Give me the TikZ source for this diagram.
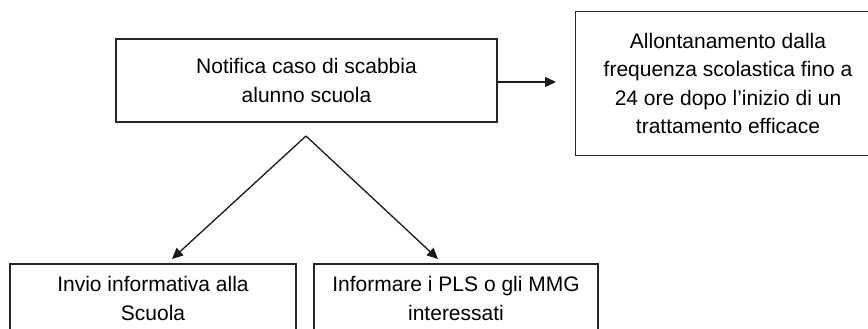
\documentclass[tikz,border=0pt]{standalone}
\usepackage{fontspec}
\setmainfont{Liberation Sans}
\usetikzlibrary{arrows.meta}
\begin{document}
\begin{tikzpicture}[x=1pt,y=-1pt,
  boxline/.style={draw=black!85, line width=1.1pt},
  box/.style={boxline, align=center, inner sep=0pt,
    font=\fontsize{21}{28.5}\selectfont},
  flow/.style={draw=black!90, line width=1.3pt,
    -{Triangle[length=11pt,width=10pt]}}]
  \useasboundingbox (0,0) rectangle (868,329);

  % boxes
  \node[box, minimum width=381pt, minimum height=83pt] (notifica) at (306.5,80.5)
    {Notifica caso di scabbia\\alunno scuola};
  % this box runs off the right edge of the sheet
  \node[box, draw=none, minimum width=304pt, minimum height=143pt] (allont) at (728,83.5)
    {Allontanamento dalla\\frequenza scolastica fino a\\24 ore dopo l’inizio di un\\trattamento efficace};
  \draw[boxline] (allont.north west) -- ([xshift=60pt]allont.north east)
    (allont.south west) -- ([xshift=60pt]allont.south east)
    (allont.north west) -- (allont.south west);
  \node[box, minimum width=286pt, minimum height=69pt] (scuola) at (153,298.5)
    {Invio informativa alla\\Scuola};
  \node[box, minimum width=284pt, minimum height=69pt] (pls) at (456,298.5)
    {Informare i PLS o gli MMG\\interessati};

  % connector end points
  \coordinate (apex) at (306,136);
  \coordinate (tipL) at (172,259);
  \coordinate (tipR) at (438,259);
  \coordinate (tipA) at (556,82);

  % connectors
  \draw[flow] (notifica.east |- tipA) -- (tipA);
  \draw[flow] (apex) -- (tipL);
  \draw[flow] (apex) -- (tipR);
\end{tikzpicture}
\end{document}
